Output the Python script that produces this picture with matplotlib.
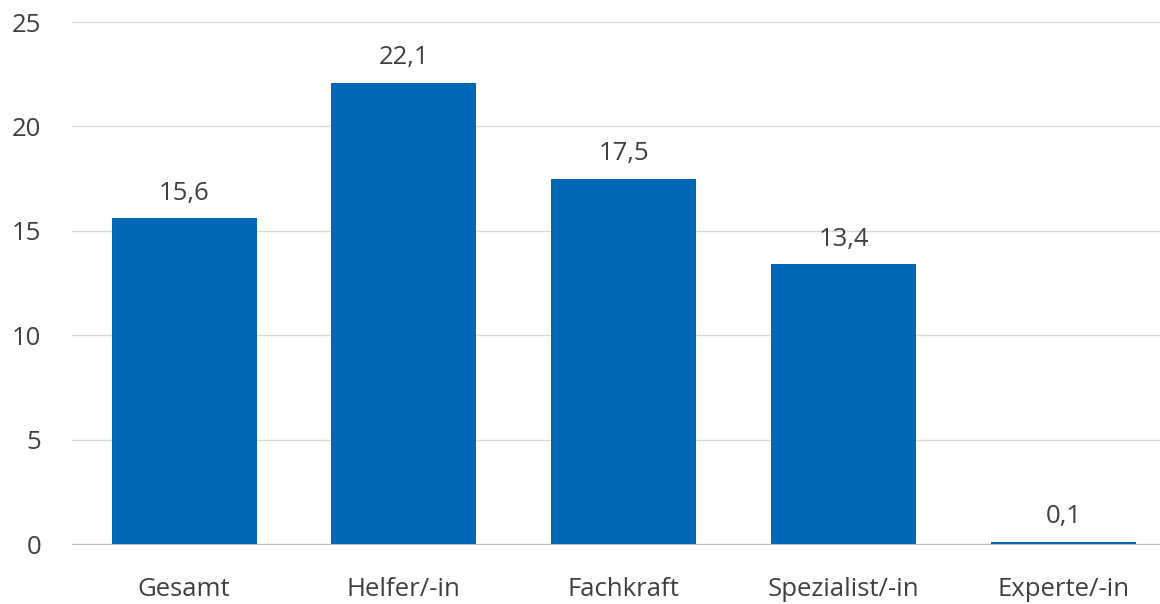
import matplotlib.pyplot as plt

# Werte aus der Vorlage
categories = ["Gesamt", "Helfer/-in", "Fachkraft", "Spezialist/-in", "Experte/-in"]
values = [15.6, 22.1, 17.5, 13.4, 0.1]
yticks = [0, 5, 10, 15, 20, 25]

plt.rcParams["font.family"] = ["Open Sans", "DejaVu Sans"]

fig = plt.figure(figsize=(11.6, 6.04), dpi=100)
ax = fig.add_axes([72 / 1160, 60 / 604, 1 - 72 / 1160, (544 - 22) / 604])

x = range(len(categories))
bars = ax.bar(x, values, width=0.66, color="#0068B4", zorder=3)

for b, v in zip(bars, values):
    ax.text(b.get_x() + b.get_width() / 2, v + 0.6, f"{v:.1f}".replace(".", ","),
            ha="center", va="bottom", fontsize=18.5, color="#404040")

ax.set_ylim(0, 25)
ax.set_xlim(-0.51, 4.44)
ax.set_yticks(yticks)
ax.set_yticklabels([str(t) for t in yticks])
ax.set_xticks(list(x))
ax.set_xticklabels(categories)
ax.tick_params(axis="both", length=0, labelsize=18.5, colors="#404040")
ax.tick_params(axis="x", pad=24)
ax.tick_params(axis="y", pad=22)

ax.grid(axis="y", color="#D9D9D9", linewidth=1, zorder=0)
for s in ["top", "right", "left"]:
    ax.spines[s].set_visible(False)
ax.spines["bottom"].set_color("#BFBFBF")

fig.savefig("out.png", dpi=100)
